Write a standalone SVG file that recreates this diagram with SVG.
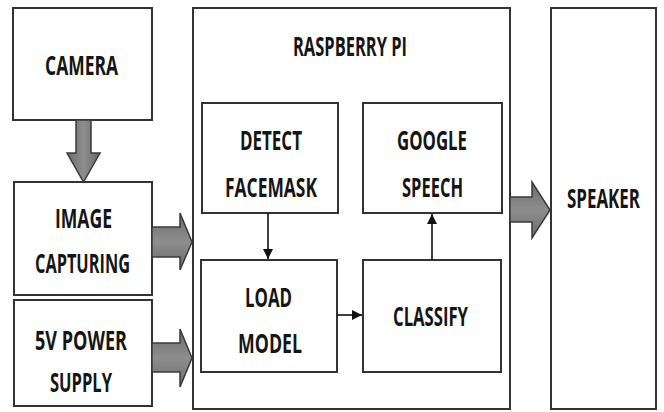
<svg xmlns="http://www.w3.org/2000/svg" width="664" height="412" viewBox="0 0 664 412">
<defs>
<linearGradient id="gv" x1="0" y1="0" x2="1" y2="0"><stop offset="0" stop-color="#6a6a6a"/><stop offset="0.5" stop-color="#8e8e8e"/><stop offset="1" stop-color="#6a6a6a"/></linearGradient>
<linearGradient id="gh" x1="0" y1="0" x2="0" y2="1"><stop offset="0" stop-color="#6a6a6a"/><stop offset="0.5" stop-color="#8e8e8e"/><stop offset="1" stop-color="#6a6a6a"/></linearGradient>
<marker id="ah" viewBox="0 0 10 10" refX="10" refY="5" markerWidth="10" markerHeight="12" markerUnits="userSpaceOnUse" orient="auto"><path d="M0,0 L10,5 L0,10 Z" fill="#111"/></marker>
</defs>
<style>
.box{fill:#fff;stroke:#333;stroke-width:2}
.t{font-family:"Open Sans","Liberation Sans",sans-serif;font-weight:bold;font-size:27px;fill:#151515;text-anchor:middle}
.big{stroke:#3a3a3a;stroke-width:1.5}
.ln{stroke:#111;stroke-width:1.6;fill:none}
</style>
<rect width="664" height="412" fill="#fff"/>
<g id="camera"><rect class="box" x="13" y="8" width="139" height="112"/><text class="t" x="81.5" y="75" textLength="73" lengthAdjust="spacingAndGlyphs">CAMERA</text></g>
<g id="image-capturing"><rect class="box" x="14" y="182" width="138" height="113"/><text class="t" x="83.5" y="228" textLength="57" lengthAdjust="spacingAndGlyphs">IMAGE</text><text class="t" x="82.5" y="273" textLength="95" lengthAdjust="spacingAndGlyphs">CAPTURING</text></g>
<g id="power-supply"><rect class="box" x="14" y="300" width="138" height="106"/><text class="t" x="81" y="350" textLength="92" lengthAdjust="spacingAndGlyphs">5V POWER</text><text class="t" x="81" y="392" textLength="62" lengthAdjust="spacingAndGlyphs">SUPPLY</text></g>
<g id="raspberry-pi"><rect class="box" x="193" y="8" width="317" height="401"/><text class="t" x="350" y="56" textLength="114" lengthAdjust="spacingAndGlyphs">RASPBERRY PI</text></g>
<g id="detect-facemask"><rect class="box" x="202" y="103" width="136" height="110"/><text class="t" x="271" y="150" textLength="62" lengthAdjust="spacingAndGlyphs">DETECT</text><text class="t" x="271" y="197" textLength="92" lengthAdjust="spacingAndGlyphs">FACEMASK</text></g>
<g id="google-speech"><rect class="box" x="363" y="103" width="139" height="110"/><text class="t" x="432" y="150" textLength="70" lengthAdjust="spacingAndGlyphs">GOOGLE</text><text class="t" x="432.5" y="197" textLength="61" lengthAdjust="spacingAndGlyphs">SPEECH</text></g>
<g id="load-model"><rect class="box" x="201" y="260" width="136" height="112"/><text class="t" x="268.5" y="307" textLength="47" lengthAdjust="spacingAndGlyphs">LOAD</text><text class="t" x="270" y="353" textLength="64" lengthAdjust="spacingAndGlyphs">MODEL</text></g>
<g id="classify"><rect class="box" x="363" y="260" width="138" height="112"/><text class="t" x="430.5" y="326" textLength="75" lengthAdjust="spacingAndGlyphs">CLASSIFY</text></g>
<g id="speaker"><rect class="box" x="551" y="8" width="105" height="401"/><text class="t" transform="translate(603.5,208) scale(0.6,1)" x="0" y="0" textLength="121.7" lengthAdjust="spacingAndGlyphs">SPEAKER</text></g>
<g id="connectors">
<path class="big" fill="url(#gv)" d="M76,120 L91,120 L91,153 L100,153 L83.5,182 L67,153 L76,153 Z"/>
<path class="big" fill="url(#gh)" d="M152,227 L180,227 L180,213 L192,242 L180,270 L180,257 L152,257 Z"/>
<path class="big" fill="url(#gh)" d="M152,343 L180,343 L180,329 L192,358 L180,387 L180,372 L152,372 Z"/>
<path class="big" fill="url(#gh)" d="M510,197 L532,197 L532,182 L550,210 L532,238 L532,222 L510,222 Z"/>
<line class="ln" x1="268" y1="213" x2="268" y2="259" marker-end="url(#ah)"/>
<line class="ln" x1="432" y1="260" x2="432" y2="214" marker-end="url(#ah)"/>
<line class="ln" x1="337" y1="315" x2="362" y2="315" marker-end="url(#ah)"/>
</g>
</svg>
